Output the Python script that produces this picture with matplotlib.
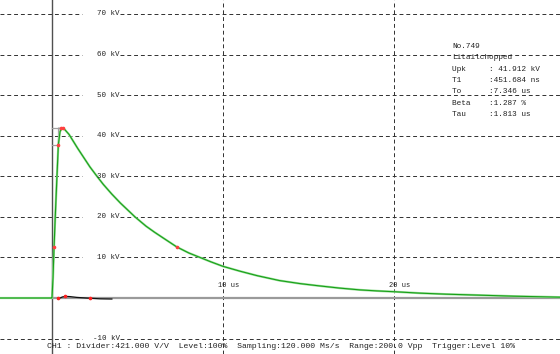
"""
Impulse voltage record (chopped lightning impulse), redrawn with matplotlib.
"""
import matplotlib
matplotlib.use("Agg")
import matplotlib.pyplot as plt

# time base in us, voltage in kV
t_us = [-3.04, -0.02, 0.0, 0.06, 0.12, 0.2, 0.28, 0.37, 0.47, 0.58, 0.75,
        1.0, 1.25, 1.5, 1.75, 2.0, 2.22, 2.63, 3.0, 3.5, 4.0, 4.5, 4.85,
        5.5, 6.0, 6.5, 7.29, 8.0, 8.65, 9.3, 10.0, 11.0, 12.0, 13.3, 14.5,
        15.5, 16.8, 18.0, 19.0, 20.0, 21.5, 23.0, 25.0, 27.0, 29.75]
u_kv = [0.0, 0.0, 0.0, 5.0, 12.6, 21.0, 29.0, 37.7, 41.0, 41.9, 41.5,
        40.3, 38.6, 36.9, 35.3, 33.7, 32.3, 30.0, 28.0, 25.6, 23.4, 21.4, 20.0,
        17.7, 16.2, 14.8, 12.6, 11.1, 10.0, 8.9, 7.8, 6.6, 5.5, 4.3, 3.55,
        3.05, 2.45, 2.0, 1.75, 1.55, 1.2, 0.95, 0.7, 0.45, 0.2]

# residual curve (small black trace near zero)
res_t = [0.35, 0.5, 0.6, 0.76, 1.05, 1.45, 1.8, 2.2, 2.8, 3.5]
res_u = [-0.2, 0.05, 0.25, 0.4, 0.35, 0.15, 0.05, -0.05, -0.2, -0.25]

# evaluation markers: 30 %, 90 %, peak, tail point
mark_t = [0.12, 0.37, 0.52, 0.64, 7.29]
mark_u = [12.6, 37.7, 41.9, 41.9, 12.6]
res_mark_t = [0.35, 0.76, 2.2]
res_mark_u = [-0.1, 0.4, 0.0]

upk = 41.912
grid_kv = [-10, 10, 20, 30, 40, 50, 60, 70]
grid_us = [10, 20]

info_lines = ["No.749",
              "Litailchopped",
              "Upk     : 41.912 kV",
              "T1      :451.684 ns",
              "To      :7.346 us",
              "Beta    :1.287 %",
              "Tau     :1.813 us"]
footer = ("CH1 : Divider:421.000 V/V  Level:100%  Sampling:120.000 Ms/s  "
          "Range:200.0 Vpp  Trigger:Level 10%")

MONO = "Liberation Mono"
GRID = dict(color="#303030", lw=0.7, ls=(0, (4, 3)))


def main():
    fig = plt.figure(figsize=(5.6, 3.54), dpi=100)
    ax = fig.add_axes([0, 0, 1, 1])
    ax.set_xlim(-3.04, 29.7)
    ax.set_ylim(-13.8, 73.45)
    ax.axis("off")

    # horizontal grid with a gap for the kV labels
    for v in grid_kv:
        ax.plot([-3.04, 1.75], [v, v], **GRID)
        ax.plot([4.0, 29.7], [v, v], **GRID)
        ax.text(3.95, v, f"{v} kV", ha="right", va="center", fontsize=5.4,
                family=MONO, color="#222222")

    # vertical grid
    for s in grid_us:
        ax.plot([s, s], [-13.8, 73.45], **GRID)
        ax.text(s - 0.3, 3.0, f"{s} us", ha="left", va="center", fontsize=5.0,
                family=MONO, color="#222222")

    # time zero line and zero baseline
    ax.plot([0, 0], [-13.8, 73.45], color="#505050", lw=1.0)
    ax.plot([0, 29.7], [0, 0], color="#9a9a9a", lw=1.6)

    # evaluation helpers (grey)
    slope = (37.7 - 12.6) / (0.37 - 0.12)
    t0 = 0.12 - 12.6 / slope
    ax.plot([t0, t0 + upk / slope], [0, upk], color="#b0b0b0", lw=1.0)
    ax.plot([0, 0.58], [upk, upk], color="#a0a0a0", lw=0.9)
    ax.plot([0, 0.37], [37.7, 37.7], color="#a0a0a0", lw=0.9)
    ax.plot([0.37, 0.37], [37.7, upk], color="#a0a0a0", lw=0.9)

    # measured impulse
    ax.plot(t_us, u_kv, color="#9ade9a", lw=1.6, solid_joinstyle="round")
    ax.plot(t_us, u_kv, color="#18a018", lw=0.8, solid_joinstyle="round")
    ax.plot(mark_t, mark_u, ls="none", marker="o", ms=1.6, color="#ff4040")

    # residual
    ax.plot(res_t, res_u, color="#111111", lw=0.9)
    ax.plot(res_mark_t, res_mark_u, ls="none", marker="o", ms=1.6, color="#ff2020")

    # result box
    for i, line in enumerate(info_lines):
        ax.text(0.808, 0.869 - i * 0.0322, line, transform=ax.transAxes,
                ha="left", va="center", fontsize=5.6, family=MONO,
                color="#222222")

    ax.text(0.084, 0.02, footer, transform=ax.transAxes, ha="left",
            va="center", fontsize=5.9, family=MONO, color="#222222")

    fig.savefig("out.png", dpi=100)


if __name__ == "__main__":
    main()
